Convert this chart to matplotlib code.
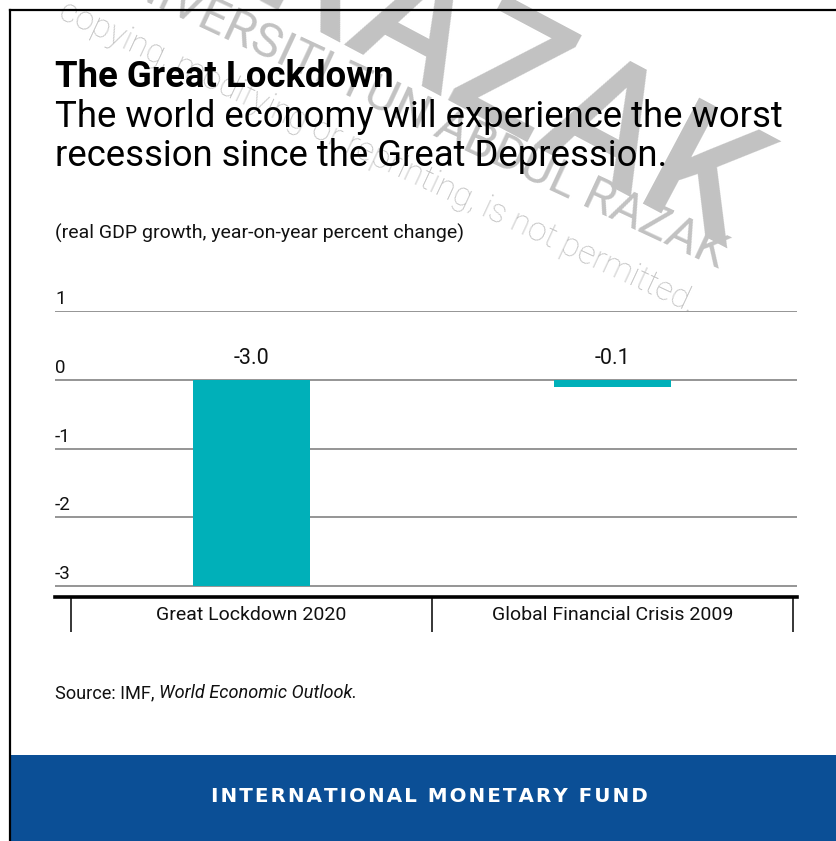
import matplotlib
matplotlib.use('Agg')
import matplotlib.pyplot as plt
from matplotlib.patches import Rectangle
from matplotlib.lines import Line2D

plt.rcParams['font.family'] = ['Roboto', 'DejaVu Sans']

categories = ['Great Lockdown 2020', 'Global Financial Crisis 2009']
growth = [-3.0, -0.1]
y_ticks = [1, 0, -1, -2, -3]

title = 'The Great Lockdown'
subtitle = ['The world economy will experience the worst',
            'recession since the Great Depression.']
units = '(real GDP growth, year-on-year percent change)'
footer = 'INTERNATIONAL MONETARY FUND'

W, H = 837, 841
fig = plt.figure(figsize=(W / 100, H / 100), dpi=100)

def fx(px):
    return px / W

def fy(py):
    return 1 - py / H

# watermark behind everything
wm = '#c2c2c2'
fig.text(fx(385), fy(20), 'UNIRAZAK', fontsize=122, fontweight='medium',
         color=wm, rotation=-28, rotation_mode='anchor',
         ha='center', va='center', zorder=-2)
fig.text(fx(412), fy(112), 'UNIVERSITI TUN ABDUL RAZAK', fontsize=35,
         color=wm, rotation=-25, rotation_mode='anchor',
         ha='center', va='center', zorder=-2)
fig.text(fx(378), fy(157), 'copying, modifying or reprinting, is not permitted.',
         fontsize=24, fontweight='light', color=wm, rotation=-25,
         rotation_mode='anchor', ha='center', va='center', zorder=-2)

ax = fig.add_axes([fx(55), fy(597), fx(797) - fx(55), fy(311) - fy(597)])
ax.patch.set_visible(False)

x = list(range(len(categories)))
ax.bar(x, growth, width=0.323, color='#00b0b9', zorder=2)
ax.set_xlim(-0.544, 1.51)
ax.set_ylim(-3.16, 1)

for v in y_ticks:
    ax.axhline(v, color='#8c8c8c', lw=1.3, zorder=1)
    ax.annotate(str(v), (0, v), xycoords=ax.get_yaxis_transform(),
                xytext=(0, 2), textcoords='offset points',
                ha='left', va='bottom', fontsize=13.5, color='#111111',
                annotation_clip=False)

for i, v in enumerate(growth):
    ax.annotate(f'{v:.1f}', (i, 0), xytext=(0, 8), textcoords='offset points',
                ha='center', va='bottom', fontsize=15.5, color='#111111')

for s in ['top', 'left', 'right']:
    ax.spines[s].set_visible(False)
ax.spines['bottom'].set_linewidth(2.6)
ax.spines['bottom'].set_color('black')

ax.set_yticks([])
ax.set_xticks(x)
ax.set_xticklabels(categories, fontsize=14, color='#111111')
ax.set_xticks([-0.5, 0.5, 1.5], minor=True)
ax.tick_params(axis='x', which='major', length=0, pad=6.5)
ax.tick_params(axis='x', which='minor', length=25, width=1.1, color='black')

# text block
fig.text(fx(55), fy(87), title, fontsize=26.3, fontweight='bold',
         va='baseline', ha='left')
fig.text(fx(55), fy(127), subtitle[0], fontsize=26.3, va='baseline', ha='left')
fig.text(fx(55), fy(166), subtitle[1], fontsize=26.3, va='baseline', ha='left')
fig.text(fx(55), fy(239), units, fontsize=14, va='baseline', ha='left',
         color='#111111')

src = fig.text(fx(55), fy(698), 'Source: IMF, ', fontsize=13.1, va='baseline',
               ha='left', color='#111111')
ax.annotate('World Economic Outlook.', xy=(1, 0), xycoords=src,
            ha='left', va='bottom', fontsize=13.1, style='italic',
            color='#111111', annotation_clip=False)

# frame and footer band
fig.add_artist(Rectangle((fx(10), 0), 1 - fx(10), fy(755), facecolor='#0b4f96',
                         edgecolor='none', transform=fig.transFigure, zorder=1))
fig.add_artist(Line2D([fx(10), fx(10)], [0, fy(10)], color='black', lw=1.6,
                      transform=fig.transFigure))
fig.add_artist(Line2D([fx(10), 1], [fy(10), fy(10)], color='black', lw=1.6,
                      transform=fig.transFigure))
fig.text(fx(429), fy(797), '\u200a'.join(footer), fontsize=14.3, fontweight='bold',
         family=['DejaVu Sans'], color='white', ha='center', va='center',
         zorder=4)

fig.savefig('out.png', dpi=100, facecolor='white')
